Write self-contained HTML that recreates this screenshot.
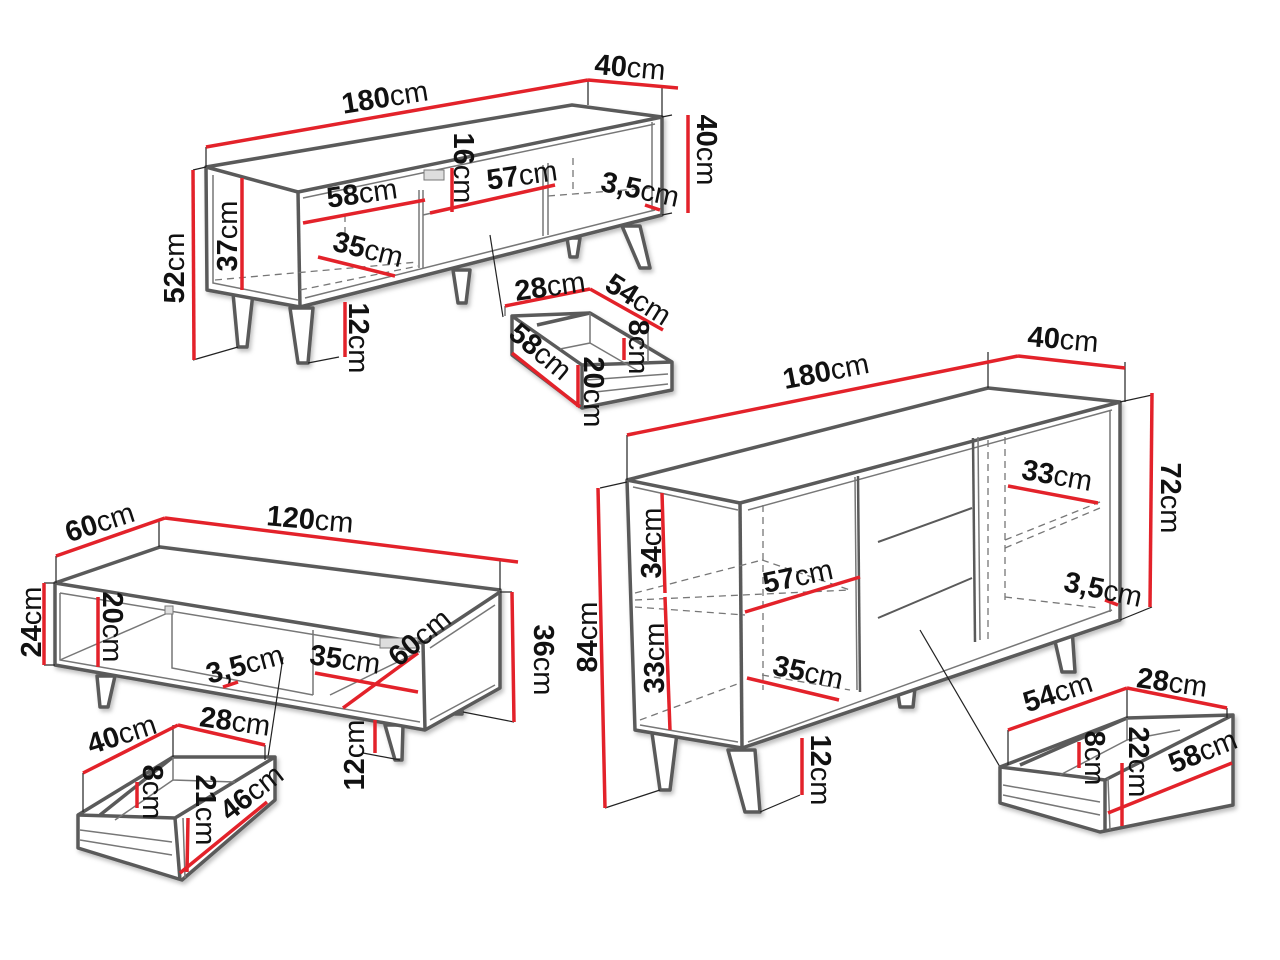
<!DOCTYPE html>
<html><head><meta charset="utf-8"><style>
html,body{margin:0;padding:0;background:#fff}
svg{display:block}
text{font-family:"Liberation Sans",sans-serif;font-size:29px;fill:#111;text-anchor:middle;dominant-baseline:central}
tspan.b{font-weight:bold}
.o{stroke:#5a5a5a;stroke-width:3.5;fill:#fff;stroke-linejoin:round}
.i{stroke:#777;stroke-width:1.5;fill:none}
.d{stroke:#777;stroke-width:1.3;fill:none;stroke-dasharray:7 5}
.k{stroke:#222;stroke-width:1.2;fill:none}
.r{stroke:#e3222a;stroke-width:3.5;fill:none}
</style></head><body>
<svg width="1280" height="960" viewBox="0 0 1280 960" xmlns="http://www.w3.org/2000/svg">
<defs><filter id="sh"><feDropShadow dx="2" dy="3" stdDeviation="2" flood-color="#000" flood-opacity="0.25"/></filter></defs>

<!-- ===== TV STAND ===== -->
<g filter="url(#sh)">
<polygon class="o" points="233,293 253,293 247,347 238,347"/>
<polygon class="o" points="290,308 313,308 308,363 298,363"/>
<polygon class="o" points="453,270 470,270 466,303 458,303"/>
<polygon class="o" points="567,238 580,238 577,257 570,257"/>
<polygon class="o" points="622,226 640,226 650,268 640,268"/>
<polygon class="o" points="206,167 572,105 662,117 662,215 300,307 207,290"/>
</g>
<polyline class="o" style="fill:none" points="206,167 298,192 662,117"/>
<line class="o" x1="298" y1="192" x2="300" y2="307"/>
<polyline class="i" points="213,175 213,283 298,300"/>
<line class="i" x1="303" y1="198" x2="655" y2="124"/>
<line class="i" x1="305" y1="298" x2="655" y2="210"/>
<line class="i" x1="419" y1="190" x2="419" y2="268"/>
<line class="i" x1="423" y1="190" x2="423" y2="268"/>
<line class="i" x1="543" y1="165" x2="543" y2="236"/>
<line class="i" x1="548" y1="163" x2="548" y2="235"/>
<line class="i" x1="652" y1="122" x2="652" y2="210"/>
<line class="i" x1="423" y1="215" x2="543" y2="188"/>
<line class="d" x1="215" y1="280" x2="418" y2="262"/>
<line class="d" x1="300" y1="290" x2="418" y2="266"/>
<line class="d" x1="345" y1="215" x2="345" y2="240"/>
<line class="d" x1="573" y1="158" x2="573" y2="190"/>
<line class="d" x1="548" y1="196" x2="650" y2="188"/>
<rect x="424" y="170" width="20" height="10" fill="#ddd" stroke="#777"/>
<line class="k" x1="490" y1="235" x2="503" y2="317"/>
<line class="k" x1="206" y1="147" x2="206" y2="167"/>
<line class="k" x1="588" y1="80" x2="588" y2="105"/>
<line class="k" x1="662" y1="88" x2="662" y2="117"/>
<line class="k" x1="662" y1="117" x2="672" y2="115"/>
<line class="k" x1="662" y1="215" x2="672" y2="213"/>
<line class="k" x1="193" y1="170" x2="206" y2="167"/>
<line class="k" x1="193" y1="360" x2="238" y2="347"/>
<line class="k" x1="308" y1="363" x2="339" y2="357"/>
<line class="r" x1="206" y1="147" x2="588" y2="80"/>
<line class="r" x1="588" y1="80" x2="678" y2="88"/>
<line class="r" x1="688" y1="115" x2="688" y2="213"/>
<line class="r" x1="193" y1="170" x2="194" y2="360"/>
<line class="r" x1="242" y1="178" x2="242" y2="290"/>
<line class="r" x1="303" y1="223" x2="425" y2="200"/>
<line class="r" x1="318" y1="257" x2="395" y2="276"/>
<line class="r" x1="452" y1="168" x2="452" y2="212"/>
<line class="r" x1="430" y1="213" x2="555" y2="185"/>
<line class="r" x1="645" y1="205" x2="660" y2="210"/>
<line class="r" x1="345" y1="302" x2="345" y2="357"/>
<text transform="translate(385,98) rotate(-9)"><tspan class="b">180</tspan>cm</text>
<text transform="translate(630,68) rotate(5)"><tspan class="b">40</tspan>cm</text>
<text transform="translate(706,150) rotate(90)"><tspan class="b">40</tspan>cm</text>
<text transform="translate(175,268) rotate(-90)"><tspan class="b">52</tspan>cm</text>
<text transform="translate(228,236) rotate(-90)"><tspan class="b">37</tspan>cm</text>
<text transform="translate(362,194) rotate(-8)"><tspan class="b">58</tspan>cm</text>
<text transform="translate(368,250) rotate(14)"><tspan class="b">35</tspan>cm</text>
<text transform="translate(463,168) rotate(90)"><tspan class="b">16</tspan>cm</text>
<text transform="translate(522,176) rotate(-8)"><tspan class="b">57</tspan>cm</text>
<text transform="translate(640,190) rotate(12)"><tspan class="b">3,5</tspan>cm</text>
<text transform="translate(358,338) rotate(90)"><tspan class="b">12</tspan>cm</text>

<g filter="url(#sh)">
<polygon class="o" points="512,316 590,313 672,362 672,390 582,408 512,355"/>
</g>
<polyline class="o" style="fill:none" points="512,316 582,365 672,362"/>
<line class="o" x1="582" y1="365" x2="582" y2="408"/>
<line class="o" x1="537" y1="325" x2="590" y2="313"/>
<polyline class="i" points="590,313 590,343 560,349"/>
<line class="i" x1="590" y1="343" x2="640" y2="372"/>
<line class="i" x1="586" y1="380" x2="668" y2="374"/>
<line class="i" x1="586" y1="393" x2="668" y2="384"/>
<line class="i" x1="648" y1="328" x2="648" y2="362"/>
<line class="i" x1="505" y1="306" x2="505" y2="316"/>
<line class="r" x1="505" y1="306" x2="590" y2="289"/>
<line class="r" x1="590" y1="289" x2="663" y2="330"/>
<line class="r" x1="512" y1="353" x2="580" y2="407"/>
<line class="r" x1="624" y1="338" x2="624" y2="360"/>
<line class="r" x1="578" y1="365" x2="578" y2="407"/>
<text transform="translate(550,287) rotate(-8)"><tspan class="b">28</tspan>cm</text>
<text transform="translate(638,300) rotate(32)"><tspan class="b">54</tspan>cm</text>
<text transform="translate(638,347) rotate(90)"><tspan class="b">8</tspan>cm</text>
<text transform="translate(540,352) rotate(40)"><tspan class="b">58</tspan>cm</text>
<text transform="translate(593,392) rotate(90)"><tspan class="b">20</tspan>cm</text>

<!-- ===== SIDEBOARD ===== -->
<g filter="url(#sh)">
<polygon class="o" points="652,733 677,733 670,790 660,790"/>
<polygon class="o" points="728,750 755,750 760,812 745,812"/>
<polygon class="o" points="897,688 915,688 913,707 900,707"/>
<polygon class="o" points="1052,628 1072,628 1075,672 1062,672"/>
<polygon class="o" points="627,480 988,388 1120,402 1120,620 742,748 635,730"/>
</g>
<polyline class="o" style="fill:none" points="627,480 740,503 1120,402"/>
<line class="o" x1="740" y1="503" x2="742" y2="748"/>
<line class="i" x1="633" y1="487" x2="738" y2="510"/>
<line class="i" x1="640" y1="725" x2="738" y2="742"/>
<line class="i" x1="748" y1="510" x2="1112" y2="410"/>
<line class="i" x1="748" y1="742" x2="1112" y2="610"/>
<line class="i" x1="1110" y1="410" x2="1110" y2="612"/>
<line class="i" x1="855" y1="477" x2="857" y2="690"/>
<line class="o" style="stroke-width:2.5" x1="858" y1="476" x2="860" y2="692"/>
<line class="o" style="stroke-width:2.5" x1="973" y1="438" x2="975" y2="642"/>
<line class="i" x1="978" y1="437" x2="980" y2="640"/>
<line class="o" style="stroke-width:2" x1="878" y1="542" x2="972" y2="508"/>
<line class="o" style="stroke-width:2" x1="878" y1="618" x2="972" y2="578"/>
<line class="d" x1="763" y1="505" x2="763" y2="690"/>
<line class="d" x1="988" y1="440" x2="988" y2="640"/>
<line class="d" x1="1005" y1="437" x2="1005" y2="600"/>
<line class="d" x1="635" y1="593" x2="762" y2="560"/>
<line class="d" x1="635" y1="600" x2="850" y2="590"/>
<line class="d" x1="635" y1="607" x2="745" y2="615"/>
<line class="d" x1="762" y1="560" x2="850" y2="590"/>
<line class="d" x1="640" y1="720" x2="740" y2="683"/>
<line class="d" x1="762" y1="675" x2="850" y2="690"/>
<line class="d" x1="1005" y1="540" x2="1100" y2="502"/>
<line class="d" x1="1005" y1="548" x2="1100" y2="508"/>
<line class="d" x1="1005" y1="597" x2="1100" y2="608"/>
<line class="k" x1="920" y1="630" x2="1000" y2="767"/>
<line class="k" x1="627" y1="435" x2="627" y2="480"/>
<line class="k" x1="988" y1="352" x2="988" y2="388"/>
<line class="k" x1="1125" y1="362" x2="1125" y2="402"/>
<line class="k" x1="1120" y1="402" x2="1152" y2="395"/>
<line class="k" x1="1120" y1="620" x2="1152" y2="607"/>
<line class="k" x1="600" y1="488" x2="627" y2="482"/>
<line class="k" x1="605" y1="808" x2="660" y2="790"/>
<line class="k" x1="760" y1="812" x2="800" y2="795"/>
<line class="r" x1="627" y1="435" x2="1018" y2="356"/>
<line class="r" x1="1018" y1="356" x2="1125" y2="368"/>
<line class="r" x1="1152" y1="393" x2="1150" y2="607"/>
<line class="r" x1="598" y1="488" x2="605" y2="808"/>
<line class="r" x1="662" y1="493" x2="665" y2="593"/>
<line class="r" x1="665" y1="597" x2="670" y2="730"/>
<line class="r" x1="745" y1="612" x2="860" y2="577"/>
<line class="r" x1="747" y1="678" x2="839" y2="700"/>
<line class="r" x1="1008" y1="486" x2="1098" y2="503"/>
<line class="r" x1="1105" y1="600" x2="1118" y2="605"/>
<line class="r" x1="802" y1="738" x2="802" y2="795"/>
<text transform="translate(826,372) rotate(-11)"><tspan class="b">180</tspan>cm</text>
<text transform="translate(1063,340) rotate(5)"><tspan class="b">40</tspan>cm</text>
<text transform="translate(1170,498) rotate(90)"><tspan class="b">72</tspan>cm</text>
<text transform="translate(588,637) rotate(-90)"><tspan class="b">84</tspan>cm</text>
<text transform="translate(652,543) rotate(-90)"><tspan class="b">34</tspan>cm</text>
<text transform="translate(655,658) rotate(-90)"><tspan class="b">33</tspan>cm</text>
<text transform="translate(798,577) rotate(-12)"><tspan class="b">57</tspan>cm</text>
<text transform="translate(808,673) rotate(12)"><tspan class="b">35</tspan>cm</text>
<text transform="translate(1057,476) rotate(10)"><tspan class="b">33</tspan>cm</text>
<text transform="translate(1103,590) rotate(12)"><tspan class="b">3,5</tspan>cm</text>
<text transform="translate(820,770) rotate(90)"><tspan class="b">12</tspan>cm</text>

<g filter="url(#sh)">
<polygon class="o" points="1000,767 1127,718 1233,715 1233,805 1100,832 1000,803"/>
</g>
<polyline class="o" style="fill:none" points="1000,767 1105,780 1233,715"/>
<line class="o" x1="1105" y1="780" x2="1105" y2="832"/>
<line class="o" x1="1020" y1="765" x2="1127" y2="718"/>
<polyline class="i" points="1127,718 1127,740 1180,730"/>
<line class="i" x1="1127" y1="740" x2="1060" y2="775"/>
<line class="i" x1="1003" y1="785" x2="1100" y2="802"/>
<line class="i" x1="1003" y1="795" x2="1100" y2="815"/>
<line class="i" x1="1108" y1="778" x2="1110" y2="830"/>
<line class="k" x1="1008" y1="730" x2="1008" y2="765"/>
<line class="k" x1="1127" y1="688" x2="1127" y2="718"/>
<line class="k" x1="1227" y1="708" x2="1227" y2="718"/>
<line class="r" x1="1008" y1="730" x2="1127" y2="688"/>
<line class="r" x1="1127" y1="688" x2="1227" y2="708"/>
<line class="r" x1="1079" y1="742" x2="1079" y2="768"/>
<line class="r" x1="1122" y1="763" x2="1122" y2="826"/>
<line class="r" x1="1108" y1="813" x2="1232" y2="763"/>
<text transform="translate(1058,693) rotate(-18)"><tspan class="b">54</tspan>cm</text>
<text transform="translate(1172,683) rotate(8)"><tspan class="b">28</tspan>cm</text>
<text transform="translate(1094,758) rotate(90)"><tspan class="b">8</tspan>cm</text>
<text transform="translate(1138,762) rotate(90)"><tspan class="b">22</tspan>cm</text>
<text transform="translate(1203,752) rotate(-22)"><tspan class="b">58</tspan>cm</text>

<!-- ===== COFFEE TABLE ===== -->
<g filter="url(#sh)">
<polygon class="o" points="97,676 115,676 108,707 100,707"/>
<polygon class="o" points="385,725 403,725 402,760 395,760"/>
<polygon class="o" points="453,705 462,705 462,714 455,714"/>
<polygon class="o" points="55,583 160,547 500,590 500,688 425,730 55,665"/>
</g>
<polyline class="o" style="fill:none" points="55,583 423,643 500,592"/>
<line class="o" x1="423" y1="643" x2="425" y2="730"/>
<polyline class="i" points="60,593 60,660 420,722"/>
<line class="i" x1="60" y1="593" x2="420" y2="652"/>
<line class="i" x1="430" y1="648" x2="495" y2="605"/>
<line class="i" x1="430" y1="720" x2="495" y2="685"/>
<line class="i" x1="60" y1="660" x2="170" y2="612"/>
<polyline class="i" points="172,610 172,668 313,695"/>
<line class="i" x1="313" y1="630" x2="313" y2="695"/>
<line class="i" x1="330" y1="695" x2="418" y2="652"/>
<rect x="165" y="606" width="8" height="8" fill="#ddd" stroke="#777"/>
<rect x="380" y="638" width="38" height="10" fill="#ddd" stroke="#777"/>
<line class="k" x1="283" y1="657" x2="268" y2="757"/>
<line class="k" x1="56" y1="556" x2="56" y2="583"/>
<line class="k" x1="159" y1="520" x2="159" y2="547"/>
<line class="k" x1="500" y1="560" x2="500" y2="590"/>
<line class="k" x1="44" y1="583" x2="55" y2="583"/>
<line class="k" x1="44" y1="665" x2="55" y2="665"/>
<line class="k" x1="500" y1="592" x2="512" y2="592"/>
<line class="k" x1="463" y1="712" x2="514" y2="722"/>
<line class="k" x1="363" y1="753" x2="400" y2="760"/>
<line class="r" x1="56" y1="556" x2="165" y2="518"/>
<line class="r" x1="165" y1="518" x2="518" y2="562"/>
<line class="r" x1="44" y1="583" x2="44" y2="665"/>
<line class="r" x1="98" y1="597" x2="98" y2="667"/>
<line class="r" x1="512" y1="592" x2="514" y2="722"/>
<line class="r" x1="223" y1="687" x2="238" y2="682"/>
<line class="r" x1="315" y1="673" x2="418" y2="692"/>
<line class="r" x1="343" y1="708" x2="418" y2="653"/>
<line class="r" x1="375" y1="720" x2="375" y2="753"/>
<text transform="translate(100,523) rotate(-18)"><tspan class="b">60</tspan>cm</text>
<text transform="translate(310,520) rotate(5)"><tspan class="b">120</tspan>cm</text>
<text transform="translate(32,622) rotate(-90)"><tspan class="b">24</tspan>cm</text>
<text transform="translate(112,627) rotate(90)"><tspan class="b">20</tspan>cm</text>
<text transform="translate(543,660) rotate(90)"><tspan class="b">36</tspan>cm</text>
<text transform="translate(245,665) rotate(-15)"><tspan class="b">3,5</tspan>cm</text>
<text transform="translate(345,660) rotate(8)"><tspan class="b">35</tspan>cm</text>
<text transform="translate(420,638) rotate(-40)"><tspan class="b">60</tspan>cm</text>
<text transform="translate(355,755) rotate(-90)"><tspan class="b">12</tspan>cm</text>

<g filter="url(#sh)">
<polygon class="o" points="78,815 173,757 275,757 275,800 182,880 78,848"/>
</g>
<polyline class="o" style="fill:none" points="78,815 175,818 275,757"/>
<line class="o" x1="175" y1="818" x2="180" y2="880"/>
<line class="o" x1="100" y1="815" x2="173" y2="757"/>
<polyline class="i" points="173,757 173,780 235,782"/>
<line class="i" x1="173" y1="780" x2="115" y2="820"/>
<line class="i" x1="80" y1="830" x2="172" y2="842"/>
<line class="i" x1="80" y1="840" x2="172" y2="855"/>
<line class="i" x1="183" y1="818" x2="185" y2="878"/>
<line class="k" x1="83" y1="773" x2="83" y2="812"/>
<line class="k" x1="173" y1="725" x2="173" y2="757"/>
<line class="k" x1="265" y1="745" x2="265" y2="760"/>
<line class="r" x1="83" y1="773" x2="178" y2="725"/>
<line class="r" x1="178" y1="725" x2="265" y2="745"/>
<line class="r" x1="137" y1="782" x2="137" y2="808"/>
<line class="r" x1="188" y1="818" x2="187" y2="872"/>
<line class="r" x1="180" y1="873" x2="267" y2="802"/>
<text transform="translate(122,735) rotate(-18)"><tspan class="b">40</tspan>cm</text>
<text transform="translate(235,722) rotate(8)"><tspan class="b">28</tspan>cm</text>
<text transform="translate(152,792) rotate(90)"><tspan class="b">8</tspan>cm</text>
<text transform="translate(205,810) rotate(90)"><tspan class="b">21</tspan>cm</text>
<text transform="translate(252,793) rotate(-38)"><tspan class="b">46</tspan>cm</text>
</svg>
</body></html>
